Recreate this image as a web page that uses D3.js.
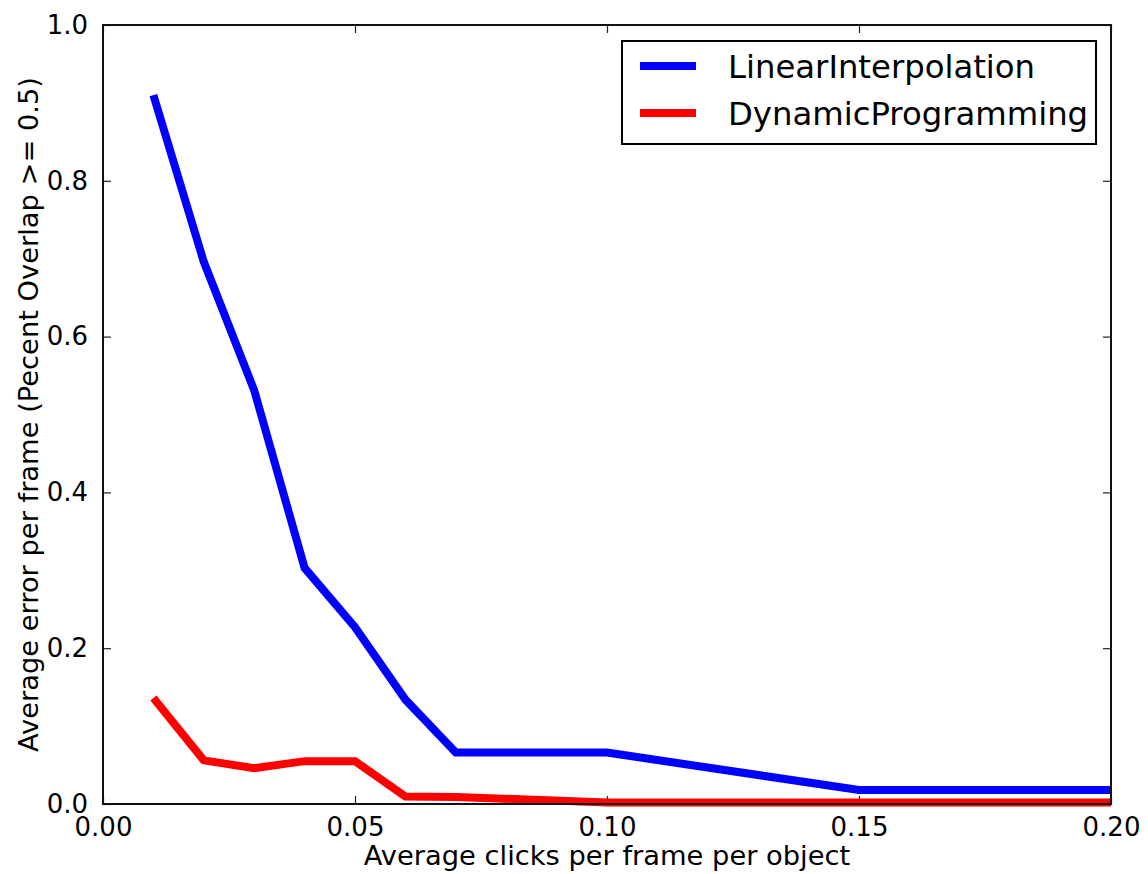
<!DOCTYPE html>
<html>
<head>
<meta charset="utf-8">
<script src="https://cdn.jsdelivr.net/npm/d3@7"></script>
<style>
  body { margin: 0; background: #fff; }
  svg text { font-family: "DejaVu Sans", sans-serif; fill: #000; }
</style>
</head>
<body>
<svg id="chart"></svg>
<script>
// clicks per frame per object
const clicks = [0.01, 0.02, 0.03, 0.04, 0.05, 0.06, 0.07, 0.10, 0.15, 0.20];
const linearInterp = [0.91, 0.696, 0.531, 0.303, 0.227, 0.134, 0.066, 0.066, 0.018, 0.018];
const dynamicProg = [0.136, 0.056, 0.046, 0.055, 0.055, 0.0095, 0.009, 0.002, 0.002, 0.002];

const xTicks = [0, 0.05, 0.10, 0.15, 0.20];
const yTicks = [0, 0.2, 0.4, 0.6, 0.8, 1.0];

const seriesNames = ['LinearInterpolation', 'DynamicProgramming'];
const seriesColors = ['#0000ff', '#ff0000'];

const width = 1148, height = 874;
const margin = { top: 25, right: 37, bottom: 70, left: 103 };
const innerW = width - margin.left - margin.right;
const innerH = height - margin.top - margin.bottom;

const svg = d3.select('#chart')
  .attr('width', width)
  .attr('height', height);

const chart = svg.append('g')
  .attr('transform', `translate(${margin.left},${margin.top})`);

const xScale = d3.scaleLinear().domain([0, 0.2]).range([0, innerW]);
const yScale = d3.scaleLinear().domain([0, 1]).range([innerH, 0]);

const tickLen = 8;

// axes, ticks inside on all four sides like matplotlib
const axes = [
  { axis: d3.axisBottom(xScale), t: `translate(0,${innerH})`, labels: true, fmt: d3.format('.2f'), vals: xTicks, pad: tickLen + 6 },
  { axis: d3.axisTop(xScale), t: 'translate(0,0)', labels: false, vals: xTicks },
  { axis: d3.axisLeft(yScale), t: 'translate(0,0)', labels: true, fmt: d3.format('.1f'), vals: yTicks, pad: tickLen + 7 },
  { axis: d3.axisRight(yScale), t: `translate(${innerW},0)`, labels: false, vals: yTicks }
];

axes.forEach(a => {
  const g = chart.append('g').attr('transform', a.t);
  g.call(a.axis
    .tickValues(a.vals)
    .tickSizeInner(-tickLen)
    .tickSizeOuter(0)
    .tickPadding(a.pad || 0)
    .tickFormat(a.labels ? a.fmt : () => ''));
  g.select('.domain').remove();
  g.selectAll('.tick line').attr('stroke', '#222').attr('stroke-width', 1.2);
  g.selectAll('.tick text').attr('font-size', 26);
});

const lineGen = (ys) => d3.line()
  .x((d, i) => xScale(clicks[i]))
  .y(d => yScale(d))(ys);

[linearInterp, dynamicProg].forEach((ys, k) => {
  chart.append('path')
    .attr('d', lineGen(ys))
    .attr('fill', 'none')
    .attr('stroke', seriesColors[k])
    .attr('stroke-width', 8)
    .attr('stroke-linejoin', 'miter');
});

// frame
chart.append('rect')
  .attr('width', innerW)
  .attr('height', innerH)
  .attr('fill', 'none')
  .attr('stroke', '#111')
  .attr('stroke-width', 2);

// axis labels
svg.append('text')
  .attr('x', margin.left + innerW / 2)
  .attr('y', 865)
  .attr('text-anchor', 'middle')
  .attr('font-size', 27.3)
  .text('Average clicks per frame per object');

svg.append('text')
  .attr('transform', `translate(38,${margin.top + innerH / 2}) rotate(-90)`)
  .attr('text-anchor', 'middle')
  .attr('font-size', 27.3)
  .text('Average error per frame (Pecent Overlap >= 0.5)');

// legend
const legend = svg.append('g').attr('transform', 'translate(622,41)');
legend.append('rect')
  .attr('width', 474)
  .attr('height', 103)
  .attr('fill', '#fff')
  .attr('stroke', '#000')
  .attr('stroke-width', 2);

const item = legend.selectAll('.item').data(seriesNames).enter().append('g')
  .attr('class', 'item')
  .attr('transform', (d, i) => `translate(0,${25 + i * 47})`);

item.append('line')
  .attr('x1', 18).attr('x2', 74)
  .attr('stroke', (d, i) => seriesColors[i])
  .attr('stroke-width', 8);

item.append('text')
  .attr('x', 106)
  .attr('dy', '0.36em')
  .attr('font-size', 32.3)
  .text(d => d);
</script>
</body>
</html>
